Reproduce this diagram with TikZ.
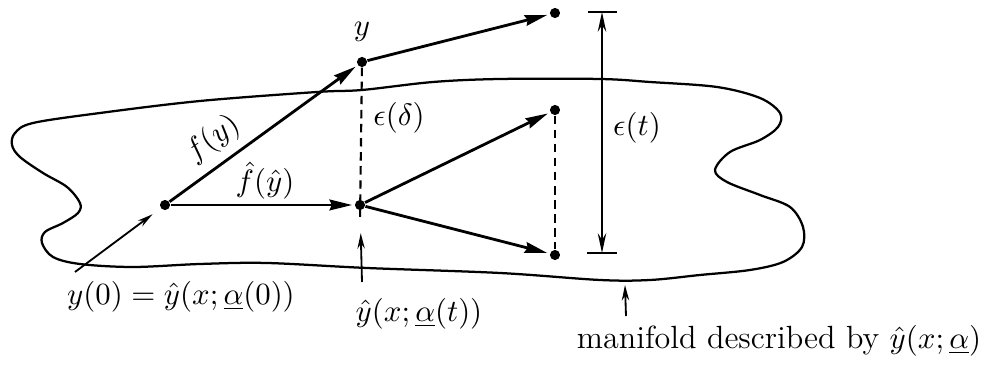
\documentclass[tikz,border=0pt]{standalone}
\usetikzlibrary{arrows.meta}
\begin{document}
\begin{tikzpicture}[x=0.355pt,y=-0.355pt,
  font=\fontsize{11.4}{13.5}\selectfont,
  dot/.style={circle,fill=black,inner sep=0pt,minimum size=3.6pt},
  mainarrow/.style={line width=1pt,-{Stealth[length=8pt,width=3.8pt,inset=0.8pt]},shorten >=0.8pt},
  blob/.style={line width=0.8pt},
  dimline/.style={line width=0.55pt},
  dashline/.style={line width=0.75pt,dash pattern=on 3pt off 2pt},
  smallarrow/.style={line width=0.65pt,-{Stealth[length=5.5pt,width=2.6pt]}},
  lbl/.style={inner sep=0pt}]
\useasboundingbox (0,0) rectangle (1002,366);

% manifold
\draw[blob] plot[smooth cycle, tension=0.55] coordinates {
 (33,123) (100,113) (200,101) (317,92) (362,90) (433,82) (500,79) (600,79)
 (650,82) (717,87) (760,98) (780,113) (778,127) (760,140) (730,152) (715,170)
 (727,182) (760,195) (790,207) (803,227) (802,247) (783,262) (750,270) (700,275)
 (650,280) (600,280) (500,273) (367,268) (267,263) (200,264) (133,267) (80,264)
 (53,257) (42,243) (45,232) (63,223) (78,213) (80,203) (67,187) (43,173)
 (20,157) (12,145) (15,133)};

% points
\node[dot] (p0) at (165,205) {};
\node[dot] (y)  at (362,62) {};
\node[dot] (h)  at (360,205) {};
\node[dot] (t)  at (555,13) {};
\node[dot] (m)  at (555,110) {};
\node[dot] (b)  at (555,255) {};

% auxiliary coordinates
\coordinate (s)   at (75,272);
\coordinate (hb)  at (362,282);
\coordinate (dend) at (360,222);
\coordinate (et)  at (602,12);
\coordinate (eb)  at (602,253);
\coordinate (etl) at (588,12);
\coordinate (etr) at (617,12);
\coordinate (ebl) at (587,253);
\coordinate (ebr) at (617,253);
\coordinate (mfs) at (626,316);
\coordinate (mft) at (625,285);

% dashed lines
\draw[dashline] (y) -- (dend);
\draw[dashline] (m) -- (b);

% main arrows
\draw[mainarrow] (p0) -- (y);
\draw[mainarrow] (p0) -- (h);
\draw[mainarrow] (y) -- (t);
\draw[mainarrow] (h) -- (m);
\draw[mainarrow] (h) -- (b);

% incoming arrow
\draw[smallarrow, shorten >=3.5pt] (s) -- (p0);

% arrow from below to yhat point
\draw[smallarrow, shorten >=8pt] (hb) -- (h);

% epsilon(t) dimension
\draw[dimline] (etl) -- (etr);
\draw[dimline] (ebl) -- (ebr);
\draw[dimline,{Stealth[length=7pt,width=3pt]}-{Stealth[length=7pt,width=3pt]}] (et) -- (eb);

% manifold pointer
\draw[smallarrow] (mfs) -- (mft);

% labels
\node[lbl] (ly)  at (362,32) {$y$};
\node[lbl,rotate=36] (lf) at (213,139) {$f(y)$};
\node[lbl] (lfh) at (265,181) {$\hat f(\hat y)$};
\node[lbl] (led) at (399,118) {$\epsilon(\delta)$};
\node[lbl] (let) at (637,128) {$\epsilon(t)$};
\node[lbl] (ly0) at (181,297) {$y(0) = \hat y(x;\underline{\alpha}(0))$};
\node[lbl] (lyh) at (419,314) {$\hat y(x;\underline{\alpha}(t))$};
\node[lbl] (lmf) at (779,341) {manifold described by $\hat y(x;\underline{\alpha})$};
\end{tikzpicture}
\end{document}
